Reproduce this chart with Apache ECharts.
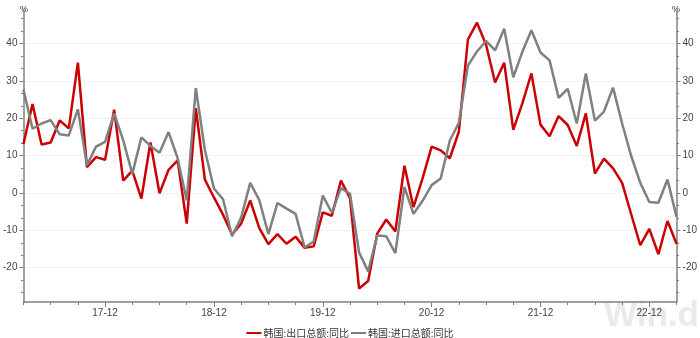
<!DOCTYPE html>
<html>
<head>
<meta charset="utf-8">
<script src="https://cdn.jsdelivr.net/npm/echarts@6/dist/echarts.min.js"></script>
<style>
  html, body { margin: 0; padding: 0; background: #fff; }
  #chart { width: 700px; height: 338px; }
</style>
</head>
<body>
<div id="chart"></div>
<script>
// monthly, 2017-03 .. 2023-03
var months = [];
for (var i = 0; i < 73; i++) {
  var t = 2 + i;
  var yy = 17 + Math.floor(t / 12);
  var mm = (t % 12) + 1;
  months.push(yy + '-' + (mm < 10 ? '0' + mm : mm));
}

var seriesNames = ['韩国:出口总额:同比', '韩国:进口总额:同比'];

var exportYoY = [
  13.1, 23.8, 13.0, 13.5, 19.4, 17.3, 34.9, 6.9, 9.6, 8.9,
  22.3, 3.3, 6.0, -1.5, 13.5, -0.1, 6.2, 8.7, -8.2, 22.7, 3.6, -1.2,
  -5.8, -11.1, -8.2, -2.0, -9.4, -13.7, -11.0, -13.6, -11.7, -14.7, -14.3, -5.2,
  -6.1, 3.3, -1.4, -25.6, -23.6, -10.9, -7.1, -10.3, 7.3, -3.8, 3.9, 12.4,
  11.4, 9.3, 16.4, 41.1, 45.6, 39.7, 29.6, 34.9, 16.9, 24.0, 32.0, 18.3,
  15.2, 20.6, 18.2, 12.6, 21.3, 5.2, 9.2, 6.6, 2.7, -5.7, -14.0, -9.6,
  -16.4, -7.5, -13.6
];

var importYoY = [
  27.7, 17.2, 18.6, 19.5, 15.7, 15.4, 22.4, 7.4, 12.4, 13.7,
  21.3, 14.1, 5.1, 14.9, 12.6, 10.8, 16.3, 9.3, -2.0, 28.1, 11.5, 1.2,
  -1.7, -11.6, -6.6, 2.7, -1.9, -11.0, -2.7, -4.2, -5.6, -14.6, -13.0, -0.7,
  -5.3, 1.3, -0.2, -15.9, -21.0, -11.4, -11.6, -16.1, 1.6, -5.6, -2.1, 2.1,
  3.9, 14.0, 18.8, 34.1, 37.9, 40.7, 38.2, 44.0, 31.0, 37.8, 43.6, 37.6,
  35.5, 25.5, 27.9, 18.6, 32.0, 19.4, 21.8, 28.2, 18.6, 9.9, 2.7, -2.4,
  -2.6, 3.6, -6.4
];

var yMajorTicks = [-20, -10, 0, 10, 20, 30, 40];

// minor ticks: three steps per 10
var yMinorTicks = [];
for (var k = -30; k <= 50; k += 10) {
  [k + 10 / 3, k + 20 / 3].forEach(function (v) {
    if (v > -29.2 && v < 49) yMinorTicks.push(v);
  });
}

var axisColor = '#808080';
var labelColor = '#444';
var numFont = 'Liberation Sans, Arial, sans-serif';

function yAxisPair(side) {
  return [{
    type: 'value', position: side, min: -29.2, max: 49,
    axisLine: { show: true, lineStyle: { color: axisColor, width: 1.5 } },
    axisTick: { show: true, customValues: yMajorTicks, length: 4, lineStyle: { color: axisColor } },
    axisLabel: { customValues: yMajorTicks, margin: 6, fontSize: 10, color: labelColor, fontFamily: numFont },
    splitLine: { show: side === 'left', lineStyle: { color: '#f1f1f1', width: 1 } }
  }, {
    type: 'value', position: side, min: -29.2, max: 49,
    axisLine: { show: false },
    axisTick: { show: true, customValues: yMinorTicks, length: 2.5, lineStyle: { color: axisColor } },
    axisLabel: { show: false },
    splitLine: { show: false }
  }];
}

var chart = echarts.init(document.getElementById('chart'));

chart.setOption({
  animation: false,
  backgroundColor: '#fff',
  grid: { left: 18, right: 20, top: 10, bottom: 36, containLabel: false },
  legend: {
    data: seriesNames,
    left: 'center', top: 323,
    icon: 'rect', itemWidth: 15, itemHeight: 2, itemGap: 2,
    textStyle: { fontSize: 10, color: '#333', fontFamily: 'Noto Sans CJK SC, sans-serif',
                 padding: [0, 0, 0, -3] }
  },
  xAxis: [{
    type: 'category', data: months, boundaryGap: false, position: 'bottom',
    axisLine: { show: true, onZero: false, lineStyle: { color: axisColor, width: 1.5 } },
    axisTick: { show: true, length: 3, interval: function (idx) { return idx % 3 === 0; },
                lineStyle: { color: axisColor } },
    axisLabel: { show: false },
    splitLine: { show: false }
  }, {
    type: 'category', data: months, boundaryGap: false, position: 'bottom',
    axisLine: { show: false, onZero: false },
    axisTick: { show: true, length: 5, interval: function (idx) { return idx % 12 === 9; },
                lineStyle: { color: axisColor } },
    axisLabel: { interval: function (idx) { return idx % 12 === 9; }, margin: 6, fontSize: 10,
                 color: labelColor, fontFamily: numFont },
    splitLine: { show: false }
  }],
  yAxis: yAxisPair('left').concat(yAxisPair('right')),
  graphic: [
    { type: 'text', left: 604, top: 299, z: 0,
      style: { text: 'Win.d', fontSize: 35, fontWeight: 'bold', fill: '#eaeaea', fontFamily: numFont } },
    { type: 'text', left: 20, top: 5,
      style: { text: '%', fontSize: 9, fill: '#333', fontFamily: numFont } },
    { type: 'text', left: 672, top: 5,
      style: { text: '%', fontSize: 9, fill: '#333', fontFamily: numFont } }
  ],
  series: [{
    name: seriesNames[0], type: 'line', data: exportYoY,
    xAxisIndex: 0, yAxisIndex: 0,
    symbol: 'none', color: '#cc0000',
    lineStyle: { width: 2.5, color: '#cc0000' }
  }, {
    name: seriesNames[1], type: 'line', data: importYoY,
    xAxisIndex: 0, yAxisIndex: 0,
    symbol: 'none', color: '#808080',
    lineStyle: { width: 2.5, color: '#808080' }
  }]
});
</script>
</body>
</html>
